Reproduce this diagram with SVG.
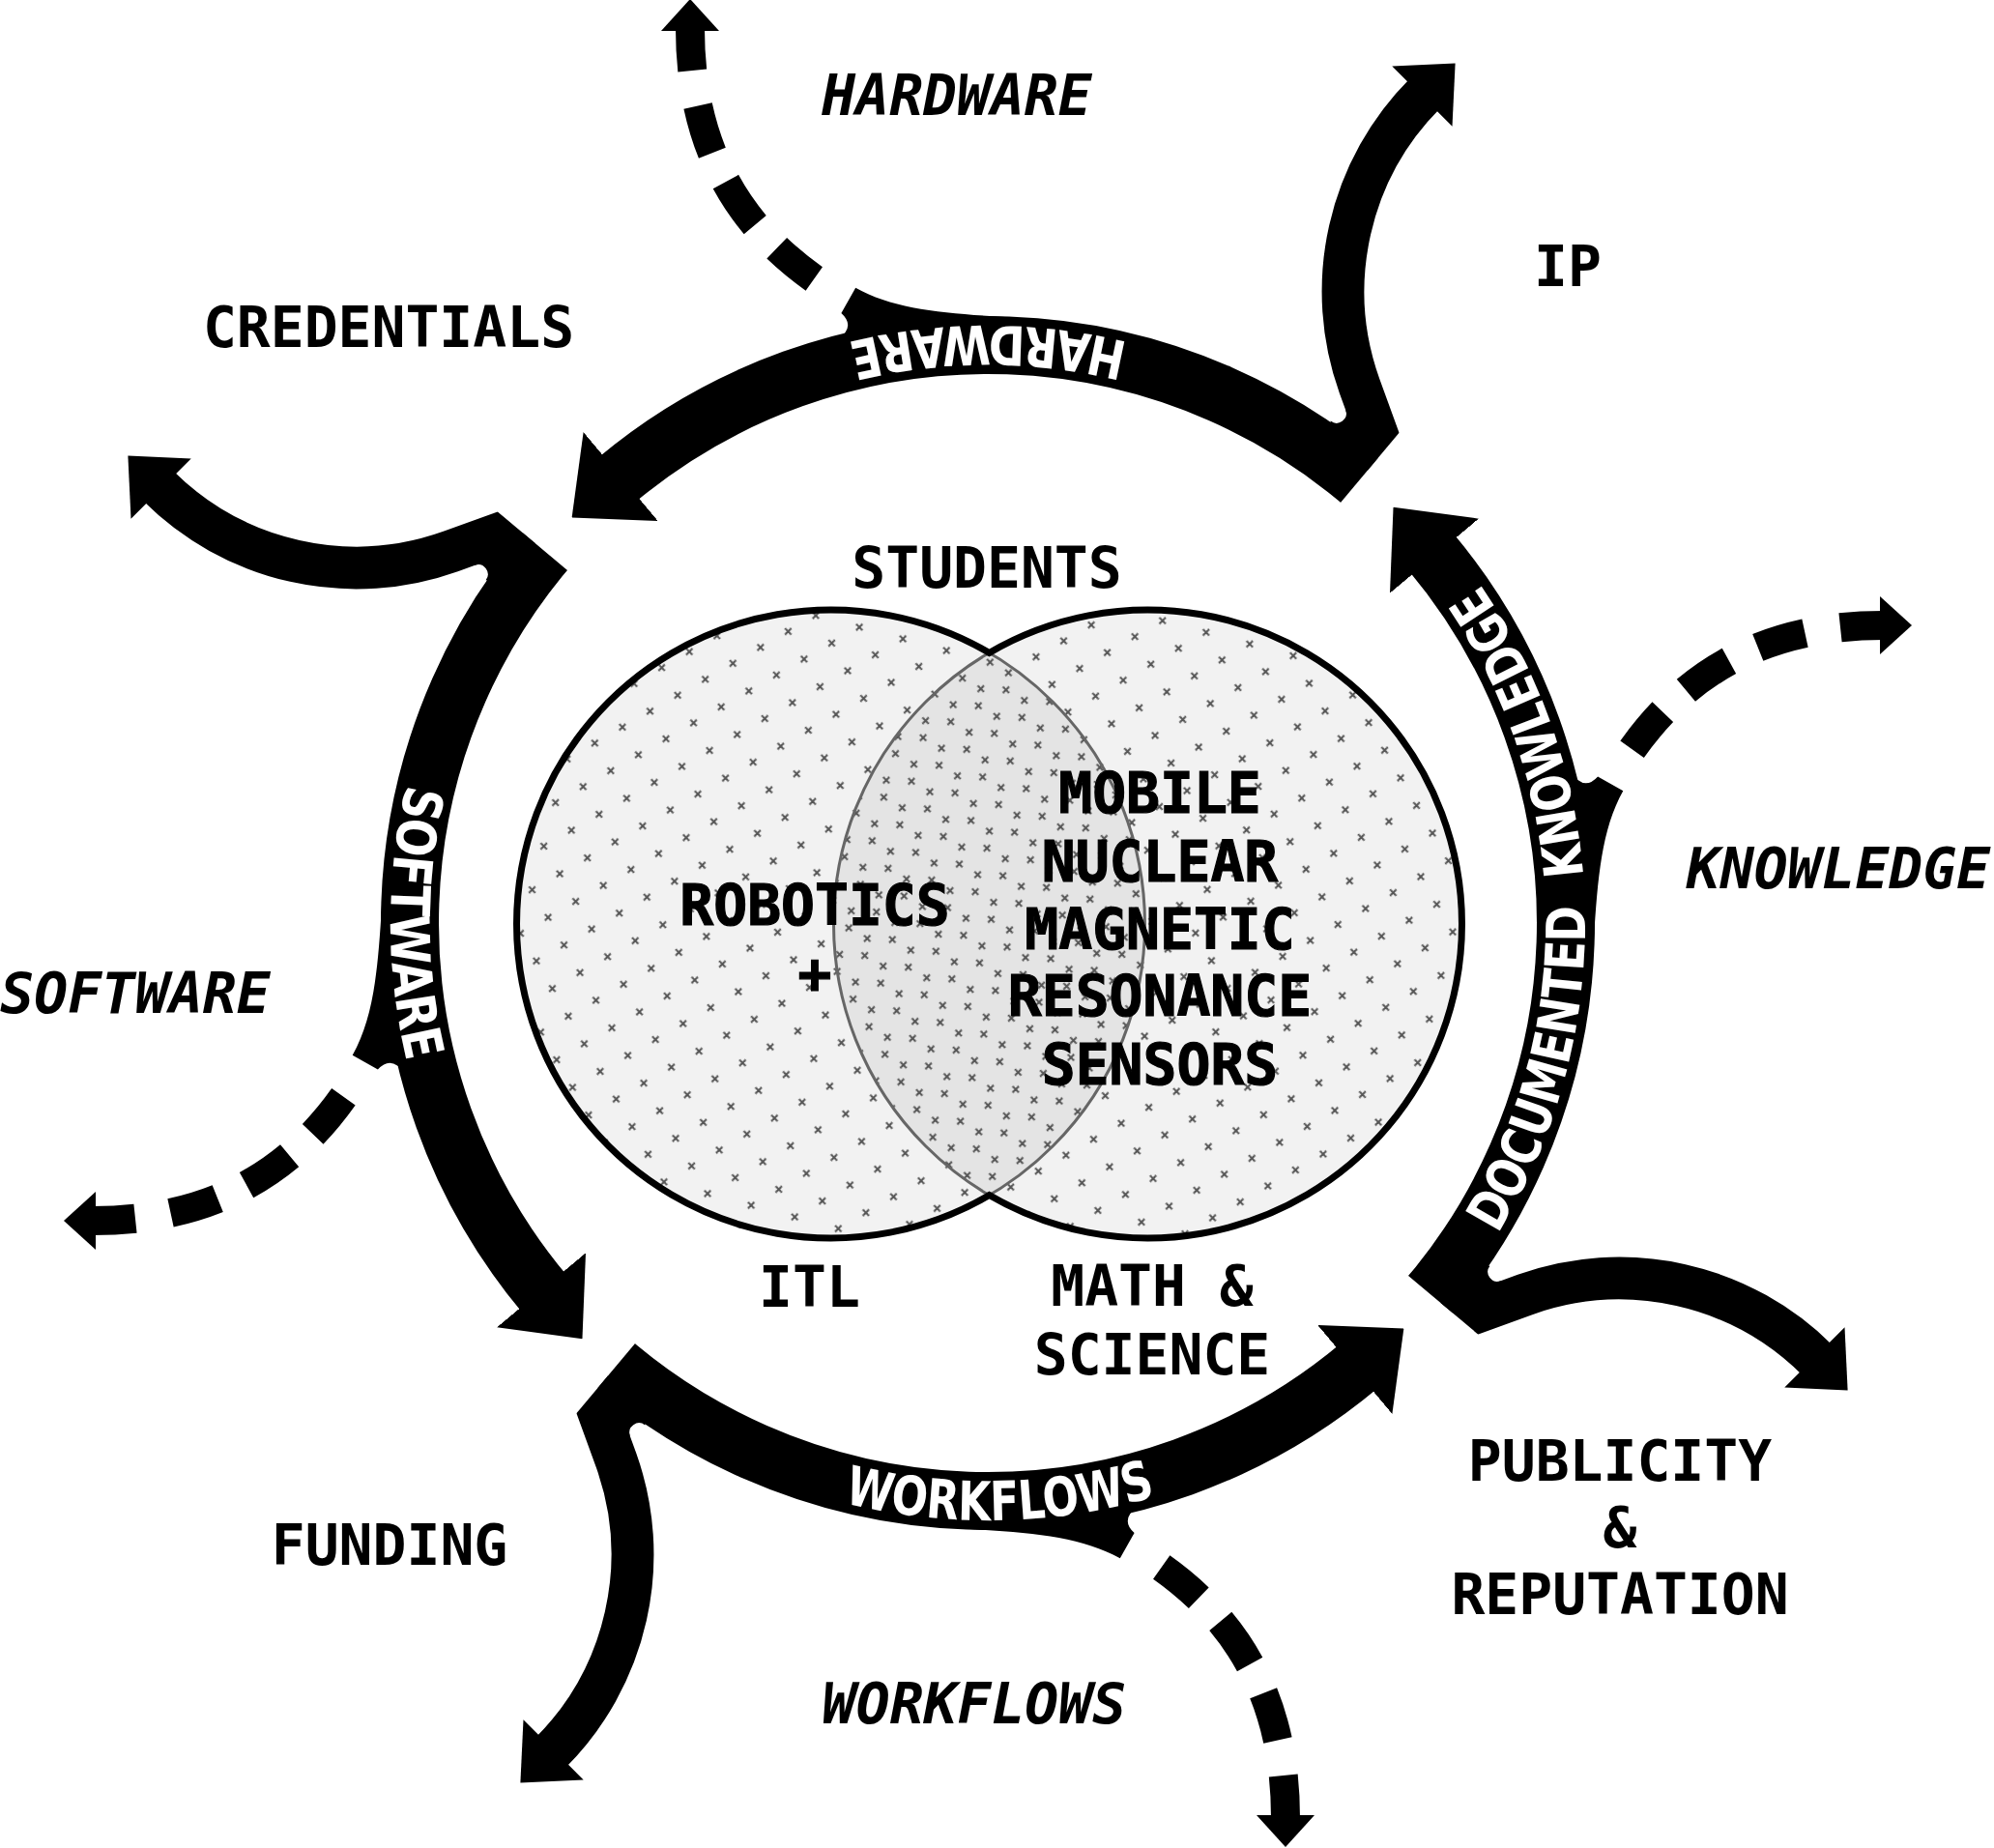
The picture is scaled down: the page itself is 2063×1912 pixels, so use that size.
<svg xmlns="http://www.w3.org/2000/svg" xmlns:xlink="http://www.w3.org/1999/xlink" width="2063" height="1912" viewBox="0 0 2063 1912">
<defs>
<style>
.lbl{font-family:"DejaVu Sans Mono","Liberation Mono",monospace;font-weight:bold;font-size:58px;fill:#000;text-anchor:middle}
.it{font-style:italic}
.vt{stroke:#000;stroke-width:1.2}
.band{font-family:"DejaVu Sans","Liberation Sans",sans-serif;font-weight:bold;font-size:56px;fill:#fff}
.arc{fill:none;stroke:#000;stroke-width:60;marker-end:url(#ah)}
.br{fill:none;stroke:#000;stroke-width:44;marker-end:url(#ah)}
.dash{fill:none;stroke:#000;stroke-width:30;stroke-dasharray:44 37 51 33 54 33 50 1000;marker-start:url(#ahs)}
.mk{stroke:#555;stroke-width:2;fill:none}
</style>
<marker id="ah" viewBox="-0.1 -1 1.1 2" refX="0" refY="0" markerWidth="1.1" markerHeight="2" markerUnits="strokeWidth" orient="auto"><path d="M-0.1,-1 L1,0 L-0.1,1 Z" fill="#000"/></marker>
<marker id="ahs" viewBox="-0.1 -1 1.1 2" refX="0" refY="0" markerWidth="1.1" markerHeight="2" markerUnits="strokeWidth" orient="auto-start-reverse"><path d="M-0.1,-1 L1,0 L-0.1,1 Z" fill="#000"/></marker>
<clipPath id="tail" clipPathUnits="userSpaceOnUse"><polygon points="2950,-1343 652,-3271 -3204,1325 -906,3253"/></clipPath>
<path id="tp" d="M1419.2,481.6 A618,618 0 0 0 624.8,481.6"/>
<pattern id="xp1" width="33" height="33" patternUnits="userSpaceOnUse" patternTransform="rotate(-30)"><path class="mk" d="M15.28,11.96 L17.72,21.04 M11.96,17.72 L21.04,15.28"/></pattern>
<pattern id="xp2" x="11" y="19" width="33" height="33" patternUnits="userSpaceOnUse" patternTransform="rotate(-30)"><path class="mk" d="M15.28,11.96 L17.72,21.04 M11.96,17.72 L21.04,15.28"/></pattern>
<g id="unit">
<g clip-path="url(#tail)">
<path class="arc" d="M1437.4,524.9 A598,598 0 0 0 637.6,496.9"/>
<path class="br" d="M1440.7,493.2 L1406.5,399.2 A290,290 0 0 1 1474.5,96.5"/>
<path d="M1392.2,424.3 L1395,424 L1410,465 L1376,440 L1376.7,435.6 A10,10 0 0 0 1392.2,424.3 Z" fill="#000"/>
<path class="dash" d="M714,29 C714,160 770,260 905,325"/>
<path d="M870.4,323.9 L885.2,297.7 C925,320 975,324 1040,328 L1030,375 L866,352 Q886,338 870.4,323.9 Z" fill="#000"/>
</g>
</g>
</defs>

<rect width="2063" height="1912" fill="#fff"/>

<g id="venn">
<circle cx="859.5" cy="956" r="325" fill="#f2f2f2"/>
<circle cx="1187.5" cy="956" r="325" fill="#f2f2f2"/>
<path d="M1023.5,675.4 A325,325 0 0 1 1023.5,1236.6 A325,325 0 0 1 1023.5,675.4 Z" fill="#e4e4e4"/>
<circle cx="859.5" cy="956" r="325" fill="url(#xp1)"/>
<circle cx="1187.5" cy="956" r="325" fill="url(#xp2)"/>
<circle cx="859.5" cy="956" r="325" fill="none" stroke="#666" stroke-width="3"/>
<circle cx="1187.5" cy="956" r="325" fill="none" stroke="#666" stroke-width="3"/>
<path d="M1023.5,675.4 A325,325 0 1 0 1023.5,1236.6 A325,325 0 1 0 1023.5,675.4 Z" fill="none" stroke="#000" stroke-width="7"/>
</g>

<g id="connectors">
<g id="flow-hardware">
<use href="#unit"/>
<text class="band"><textPath href="#tp" startOffset="50%" text-anchor="middle" textLength="293" lengthAdjust="spacingAndGlyphs">HARDWARE</textPath></text>
</g>
<g id="flow-knowledge" transform="rotate(90 1022 955)">
<use href="#unit"/>
<text class="band"><textPath href="#tp" startOffset="52%" text-anchor="middle" textLength="711" lengthAdjust="spacingAndGlyphs">DOCUMENTED&#160;&#160;KNOWLEDGE</textPath></text>
</g>
<g id="flow-workflows" transform="rotate(180 1022 955)">
<use href="#unit"/>
<text class="band"><textPath href="#tp" startOffset="51.5%" text-anchor="middle" textLength="327" lengthAdjust="spacingAndGlyphs">WORKFLOWS</textPath></text>
</g>
<g id="flow-software" transform="rotate(270 1022 955)">
<use href="#unit"/>
<text class="band"><textPath href="#tp" startOffset="50%" text-anchor="middle" textLength="290" lengthAdjust="spacingAndGlyphs">SOFTWARE</textPath></text>
</g>
</g>

<g id="node-robotics"><text class="lbl vt" x="843" y="957">ROBOTICS<tspan x="843" y="1028">+</tspan></text></g>
<g id="node-sensors"><text class="lbl vt" x="1200" y="841">MOBILE<tspan x="1200" y="912">NUCLEAR</tspan><tspan x="1200" y="982">MAGNETIC</tspan><tspan x="1200" y="1051">RESONANCE</tspan><tspan x="1200" y="1122">SENSORS</tspan></text></g>
<g id="node-students"><text class="lbl" x="1021" y="608">STUDENTS</text></g>
<g id="node-itl"><text class="lbl" x="837.5" y="1352">ITL</text></g>
<g id="node-math"><text class="lbl" x="1192" y="1351">MATH &amp;<tspan x="1192" y="1422">SCIENCE</tspan></text></g>
<g id="node-credentials"><text class="lbl" x="402" y="359">CREDENTIALS</text></g>
<g id="node-ip"><text class="lbl" x="1622" y="296">IP</text></g>
<g id="node-publicity"><text class="lbl" x="1676" y="1532">PUBLICITY<tspan x="1676" y="1601">&amp;</tspan><tspan x="1676" y="1670">REPUTATION</tspan></text></g>
<g id="node-funding"><text class="lbl" x="403" y="1619">FUNDING</text></g>
<g id="node-hardware-out"><text class="lbl it" x="990" y="119">HARDWARE</text></g>
<g id="node-knowledge-out"><text class="lbl it" x="1902" y="919">KNOWLEDGE</text></g>
<g id="node-software-out"><text class="lbl it" x="140" y="1048">SOFTWARE</text></g>
<g id="node-workflows-out"><text class="lbl it" x="1008" y="1783">WORKFLOWS</text></g>
</svg>
